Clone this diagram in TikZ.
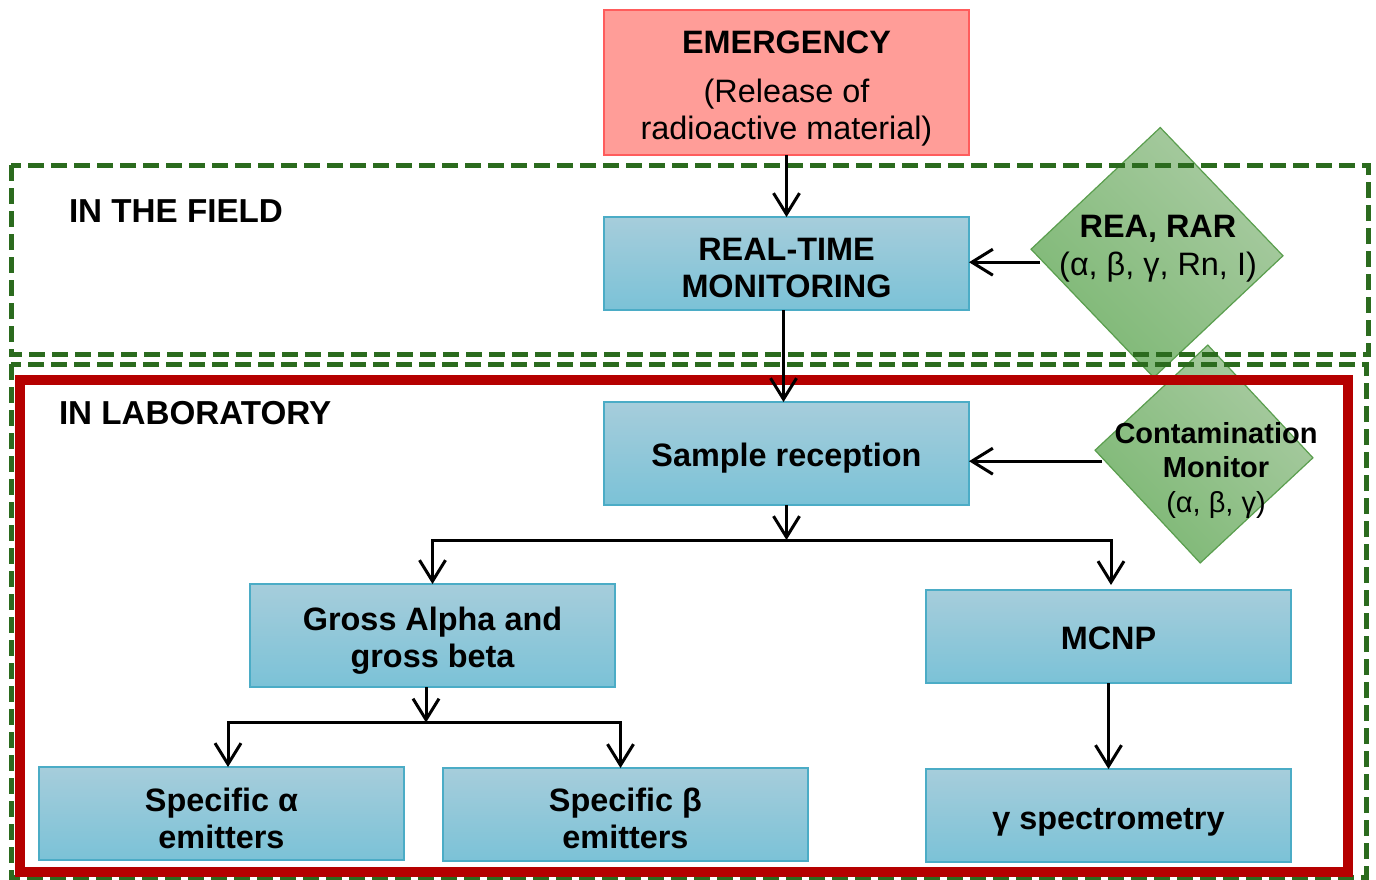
\documentclass[tikz,border=0pt]{standalone}
\usepackage{fontspec}
\setmainfont{Liberation Sans}
\usetikzlibrary{arrows.meta,shapes.geometric,calc}
\definecolor{emfill}{HTML}{FF9D98}
\definecolor{emdraw}{HTML}{FF5C5C}
\definecolor{btop}{HTML}{A6CDDB}
\definecolor{bbot}{HTML}{7BC2D7}
\definecolor{bdraw}{HTML}{4BACC6}
\definecolor{gtop}{HTML}{A9CBA2}
\definecolor{gbot}{HTML}{7DB874}
\definecolor{gdraw}{HTML}{5A9E4E}
\definecolor{dgreen}{HTML}{2B6B1E}
\definecolor{dred}{HTML}{B50000}
\begin{document}
\begin{tikzpicture}[x=1pt,y=-1pt,
  every node/.style={inner sep=0pt, outer sep=0pt},
  bfont/.style={font=\fontsize{33.2}{38}\selectfont\bfseries},
  box/.style={rectangle, draw=bdraw, line width=1.3pt, top color=btop, bottom color=bbot, minimum width=365pt},
  emb/.style={rectangle, draw=emdraw, fill=emfill, line width=1.3pt, minimum width=365pt, minimum height=145pt},
  txt/.style={align=center, font=\fontsize{32.4}{37.5}\selectfont\bfseries},
  dia/.style={diamond, draw=gdraw, line width=1.2pt, top color=gtop, bottom color=gbot, shading angle=-45},
  frame/.style={draw=dgreen, line width=5pt, dash pattern=on 16pt off 7pt},
  redframe/.style={draw=dred, line width=10pt},
  arr/.style={draw=black, line width=3pt, -{Straight Barb[length=21pt,width=26pt]}},
]
\useasboundingbox (0,0) rectangle (1376,879);

% diamonds
\node[dia, minimum width=252pt, minimum height=250pt, rotate=-1.5] (rea) at (1157,252.5) {};
\node[dia, minimum width=218pt, minimum height=218pt, rotate=-2] (cm) at (1204,454) {};

% frames
\draw[frame] (11,165) rectangle (1368,354);
\draw[frame] (11,364) rectangle (1366,877);
\draw[redframe] (20,380) rectangle (1348,872);

% boxes
\node[emb] (em) at (786.5,82.5) {};
\node[box, minimum height=93pt] (rt) at (786.5,263.5) {};
\node[box, minimum height=103pt] (sr) at (786.5,453.5) {};
\node[box, minimum height=103pt] (ga) at (432.5,635.5) {};
\node[box, minimum height=93pt] (mc) at (1108.5,636.5) {};
\node[box, minimum height=93pt] (sa) at (221.5,813.5) {};
\node[box, minimum height=93pt] (sb) at (625.5,814.5) {};
\node[box, minimum height=93pt] (gs) at (1108.5,815.5) {};

% texts
\node[align=center, font=\fontsize{32.4}{37}\selectfont] (emt) at (786.5,89) {\textbf{EMERGENCY}\\[12pt](Release of\\radioactive material)};
\node[txt] (rtt) at (786.5,268) {REAL-TIME\\MONITORING};
\node[txt] (srt) at (786.5,458) {Sample reception};
\node[txt] (gat) at (432.5,640.5) {Gross Alpha and\\gross beta};
\node[txt] (mct) at (1108.5,638) {MCNP};
\node[txt] (sat) at (221.5,818.5) {Specific α\\emitters};
\node[txt] (sbt) at (625.5,818.5) {Specific β\\emitters};
\node[txt] (gst) at (1108.5,822.5) {γ spectrometry};
\node[align=center, font=\fontsize{32.4}{38}\selectfont] (reat) at (1158,248.5) {\textbf{REA, RAR}\\(α, β, γ, Rn, I)};
\node[align=center, font=\fontsize{29}{34.5}\selectfont] (cmt) at (1216,470) {\textbf{Contamination}\\\textbf{Monitor}\\(α, β, γ)};
\node[bfont, anchor=base west] (fld) at (69,222.5) {IN THE FIELD};
\node[bfont, anchor=base west] (lab) at (59,424) {IN LABORATORY};

% connectors
\draw[arr] (em.south) -- (rt.north);
\draw[arr] ([xshift=-3pt]rt.south) -- ([xshift=-3pt]sr.north);
\coordinate (reain) at ($(rea.west)+(9,13)$);
\draw[arr] (reain) -- (reain -| rt.east);
\coordinate (cmin) at ($(cm.west)+(7,11)$);
\draw[arr] (cmin) -- (cmin -| sr.east);
\coordinate (j1) at ($(sr.south)+(0,35)$);
\draw[arr] (sr.south) -- (j1);
\draw[arr] (j1) -| (ga.north);
\draw[arr] (j1) -| ($(mc.north)+(2.5,-5)$);
\coordinate (j2) at ($(ga.south)+(-6.5,35.5)$);
\draw[arr] ($(ga.south)+(-6.5,0)$) -- (j2);
\draw[arr] (j2) -| ($(sa.north)+(6.5,0)$);
\draw[arr] (j2) -| ($(sb.north)+(-5,0)$);
\draw[arr] (mc.south) -- (gs.north);
\end{tikzpicture}
\end{document}
